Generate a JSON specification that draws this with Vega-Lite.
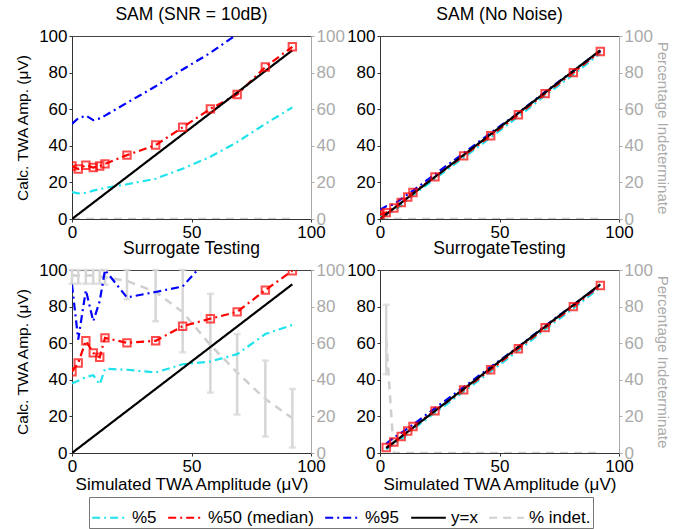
{
"$schema": "https://vega.github.io/schema/vega-lite/v6.json",
"padding": {"left": 15, "top": 5, "right": 4, "bottom": 2},
"datasets": {"d": [
{"p":"tl","s":"%5","x":0,"y":14.7},{"p":"tl","s":"%5","x":2.6,"y":14.0},{"p":"tl","s":"%5","x":5.8,"y":14.3},{"p":"tl","s":"%5","x":8.9,"y":15.5},{"p":"tl","s":"%5","x":11.6,"y":16.3},{"p":"tl","s":"%5","x":13.8,"y":17.0},{"p":"tl","s":"%5","x":23,"y":19.0},{"p":"tl","s":"%5","x":35,"y":22.0},{"p":"tl","s":"%5","x":46.3,"y":27.5},{"p":"tl","s":"%5","x":57.9,"y":34.0},{"p":"tl","s":"%5","x":69.1,"y":42.0},{"p":"tl","s":"%5","x":80.9,"y":52.0},{"p":"tl","s":"%5","x":92.2,"y":61.0},
{"p":"tl","s":"%50 (median)","x":0,"y":29.0},{"p":"tl","s":"%50 (median)","x":2.6,"y":27.3},{"p":"tl","s":"%50 (median)","x":5.8,"y":29.4},{"p":"tl","s":"%50 (median)","x":8.9,"y":28.1},{"p":"tl","s":"%50 (median)","x":11.6,"y":29.0},{"p":"tl","s":"%50 (median)","x":13.8,"y":30.1},{"p":"tl","s":"%50 (median)","x":23,"y":34.9},{"p":"tl","s":"%50 (median)","x":35,"y":40.4},{"p":"tl","s":"%50 (median)","x":46.3,"y":50.1},{"p":"tl","s":"%50 (median)","x":57.9,"y":60.2},{"p":"tl","s":"%50 (median)","x":69.1,"y":68.0},{"p":"tl","s":"%50 (median)","x":80.9,"y":83.1},{"p":"tl","s":"%50 (median)","x":92.2,"y":94.1},
{"p":"tl","s":"%95","x":0,"y":52},{"p":"tl","s":"%95","x":2.6,"y":55},{"p":"tl","s":"%95","x":5.8,"y":56.5},{"p":"tl","s":"%95","x":8.9,"y":54},{"p":"tl","s":"%95","x":11.6,"y":55},{"p":"tl","s":"%95","x":13.8,"y":56.5},{"p":"tl","s":"%95","x":23,"y":63.5},{"p":"tl","s":"%95","x":35,"y":72.5},{"p":"tl","s":"%95","x":46.3,"y":81.7},{"p":"tl","s":"%95","x":57.9,"y":90.8},{"p":"tl","s":"%95","x":69.1,"y":101},{"p":"tl","s":"%95","x":80.9,"y":111},{"p":"tl","s":"%95","x":92.2,"y":121},
{"p":"tl","s":"y=x","x":0,"y":0},{"p":"tl","s":"y=x","x":92.2,"y":92.2},
{"p":"tl","s":"% indet.","x":0,"y":0},{"p":"tl","s":"% indet.","x":92.2,"y":0},

{"p":"tr","s":"%5","x":0,"y":1},{"p":"tr","s":"%5","x":2.6,"y":2},{"p":"tr","s":"%5","x":5.8,"y":4.5},{"p":"tr","s":"%5","x":8.9,"y":7.5},{"p":"tr","s":"%5","x":11.6,"y":10.5},{"p":"tr","s":"%5","x":13.8,"y":13},{"p":"tr","s":"%5","x":23,"y":22},{"p":"tr","s":"%5","x":35,"y":33.5},{"p":"tr","s":"%5","x":46.3,"y":44.5},{"p":"tr","s":"%5","x":57.9,"y":56},{"p":"tr","s":"%5","x":69.1,"y":67.5},{"p":"tr","s":"%5","x":80.9,"y":79},{"p":"tr","s":"%5","x":92.2,"y":90.5},
{"p":"tr","s":"%50 (median)","x":0,"y":2.5},{"p":"tr","s":"%50 (median)","x":2.6,"y":3.5},{"p":"tr","s":"%50 (median)","x":5.8,"y":6},{"p":"tr","s":"%50 (median)","x":8.9,"y":9},{"p":"tr","s":"%50 (median)","x":11.6,"y":12},{"p":"tr","s":"%50 (median)","x":13.8,"y":14.5},{"p":"tr","s":"%50 (median)","x":23,"y":23},{"p":"tr","s":"%50 (median)","x":35,"y":34.5},{"p":"tr","s":"%50 (median)","x":46.3,"y":45.5},{"p":"tr","s":"%50 (median)","x":57.9,"y":57},{"p":"tr","s":"%50 (median)","x":69.1,"y":68.5},{"p":"tr","s":"%50 (median)","x":80.9,"y":80},{"p":"tr","s":"%50 (median)","x":92.2,"y":91.5},
{"p":"tr","s":"%95","x":0,"y":5},{"p":"tr","s":"%95","x":2.6,"y":7},{"p":"tr","s":"%95","x":5.8,"y":8},{"p":"tr","s":"%95","x":8.9,"y":11},{"p":"tr","s":"%95","x":11.6,"y":13.5},{"p":"tr","s":"%95","x":13.8,"y":15.5},{"p":"tr","s":"%95","x":23,"y":24.5},{"p":"tr","s":"%95","x":35,"y":36},{"p":"tr","s":"%95","x":46.3,"y":47},{"p":"tr","s":"%95","x":57.9,"y":58},{"p":"tr","s":"%95","x":69.1,"y":69.5},{"p":"tr","s":"%95","x":80.9,"y":81},{"p":"tr","s":"%95","x":92.2,"y":92},
{"p":"tr","s":"y=x","x":0,"y":0},{"p":"tr","s":"y=x","x":92.2,"y":92.2},
{"p":"tr","s":"% indet.","x":0,"y":0},{"p":"tr","s":"% indet.","x":92.2,"y":0},

{"p":"bl","s":"%5","x":0,"y":38},{"p":"bl","s":"%5","x":2.6,"y":39.5},{"p":"bl","s":"%5","x":5.8,"y":41.5},{"p":"bl","s":"%5","x":8.9,"y":42.5},{"p":"bl","s":"%5","x":11.6,"y":37.5},{"p":"bl","s":"%5","x":13.8,"y":46},{"p":"bl","s":"%5","x":23,"y":45.5},{"p":"bl","s":"%5","x":35,"y":44},{"p":"bl","s":"%5","x":46.3,"y":48.5},{"p":"bl","s":"%5","x":57.9,"y":50},{"p":"bl","s":"%5","x":69.1,"y":54},{"p":"bl","s":"%5","x":80.9,"y":65},{"p":"bl","s":"%5","x":92.2,"y":70},
{"p":"bl","s":"%50 (median)","x":0,"y":44.4},{"p":"bl","s":"%50 (median)","x":2.6,"y":49.2},{"p":"bl","s":"%50 (median)","x":5.8,"y":61.3},{"p":"bl","s":"%50 (median)","x":8.9,"y":54.7},{"p":"bl","s":"%50 (median)","x":11.6,"y":52.3},{"p":"bl","s":"%50 (median)","x":13.8,"y":62.9},{"p":"bl","s":"%50 (median)","x":23,"y":60.2},{"p":"bl","s":"%50 (median)","x":35,"y":61.3},{"p":"bl","s":"%50 (median)","x":46.3,"y":69.3},{"p":"bl","s":"%50 (median)","x":57.9,"y":73.4},{"p":"bl","s":"%50 (median)","x":69.1,"y":77.1},{"p":"bl","s":"%50 (median)","x":80.9,"y":89},{"p":"bl","s":"%50 (median)","x":92.2,"y":99.6},
{"p":"bl","s":"%95","x":0,"y":92},{"p":"bl","s":"%95","x":2.6,"y":62},{"p":"bl","s":"%95","x":5.8,"y":89},{"p":"bl","s":"%95","x":8.9,"y":72},{"p":"bl","s":"%95","x":11.6,"y":83},{"p":"bl","s":"%95","x":13.8,"y":100},{"p":"bl","s":"%95","x":23,"y":85},{"p":"bl","s":"%95","x":35,"y":88},{"p":"bl","s":"%95","x":46.3,"y":91},{"p":"bl","s":"%95","x":57.9,"y":108},{"p":"bl","s":"%95","x":69.1,"y":120},{"p":"bl","s":"%95","x":80.9,"y":130},{"p":"bl","s":"%95","x":92.2,"y":140},
{"p":"bl","s":"y=x","x":0,"y":0},{"p":"bl","s":"y=x","x":92.2,"y":92.2},
{"p":"bl","s":"% indet.","x":0,"y":97,"lo":92.5,"hi":100},{"p":"bl","s":"% indet.","x":2.6,"y":97,"lo":92.5,"hi":100},{"p":"bl","s":"% indet.","x":5.8,"y":97,"lo":92.5,"hi":100},{"p":"bl","s":"% indet.","x":8.9,"y":97,"lo":92.5,"hi":100},{"p":"bl","s":"% indet.","x":11.6,"y":96.5,"lo":92.5,"hi":100},{"p":"bl","s":"% indet.","x":13.8,"y":96,"lo":92,"hi":100},{"p":"bl","s":"% indet.","x":23,"y":94,"lo":84,"hi":100},{"p":"bl","s":"% indet.","x":35,"y":88,"lo":72,"hi":100},{"p":"bl","s":"% indet.","x":46.3,"y":77,"lo":55,"hi":100},{"p":"bl","s":"% indet.","x":57.9,"y":59,"lo":33,"hi":87},{"p":"bl","s":"% indet.","x":69.1,"y":44,"lo":21,"hi":65},{"p":"bl","s":"% indet.","x":80.9,"y":29.5,"lo":9,"hi":50.5},{"p":"bl","s":"% indet.","x":92.2,"y":19,"lo":3,"hi":35},

{"p":"br","s":"%5","x":2.6,"y":2},{"p":"br","s":"%5","x":5.8,"y":5},{"p":"br","s":"%5","x":8.9,"y":7.5},{"p":"br","s":"%5","x":11.6,"y":10.5},{"p":"br","s":"%5","x":13.8,"y":13},{"p":"br","s":"%5","x":23,"y":22},{"p":"br","s":"%5","x":35,"y":33.5},{"p":"br","s":"%5","x":46.3,"y":44.5},{"p":"br","s":"%5","x":57.9,"y":56},{"p":"br","s":"%5","x":69.1,"y":67.5},{"p":"br","s":"%5","x":80.9,"y":79},{"p":"br","s":"%5","x":92.2,"y":90.5},
{"p":"br","s":"%50 (median)","x":2.6,"y":3},{"p":"br","s":"%50 (median)","x":5.8,"y":6},{"p":"br","s":"%50 (median)","x":8.9,"y":9},{"p":"br","s":"%50 (median)","x":11.6,"y":12},{"p":"br","s":"%50 (median)","x":13.8,"y":14.5},{"p":"br","s":"%50 (median)","x":23,"y":23},{"p":"br","s":"%50 (median)","x":35,"y":34.5},{"p":"br","s":"%50 (median)","x":46.3,"y":45.5},{"p":"br","s":"%50 (median)","x":57.9,"y":57},{"p":"br","s":"%50 (median)","x":69.1,"y":68.5},{"p":"br","s":"%50 (median)","x":80.9,"y":80},{"p":"br","s":"%50 (median)","x":92.2,"y":91.5},
{"p":"br","s":"%95","x":2.6,"y":5},{"p":"br","s":"%95","x":5.8,"y":8.5},{"p":"br","s":"%95","x":8.9,"y":11},{"p":"br","s":"%95","x":11.6,"y":13.5},{"p":"br","s":"%95","x":13.8,"y":15.5},{"p":"br","s":"%95","x":23,"y":24.5},{"p":"br","s":"%95","x":35,"y":36},{"p":"br","s":"%95","x":46.3,"y":47},{"p":"br","s":"%95","x":57.9,"y":58},{"p":"br","s":"%95","x":69.1,"y":69.5},{"p":"br","s":"%95","x":80.9,"y":81},{"p":"br","s":"%95","x":92.2,"y":92},
{"p":"br","s":"y=x","x":2.6,"y":2.6},{"p":"br","s":"y=x","x":92.2,"y":92.2},
{"p":"br","s":"% indet.","x":2.6,"y":62,"lo":43,"hi":81},{"p":"br","s":"% indet.","x":5.8,"y":0},{"p":"br","s":"% indet.","x":92.2,"y":0}
]},
"data": {"name": "d"},
"columns": 2,
"spacing": {"row": 51, "column": 69},
"bounds": "flush",
"concat": [
{
 "width": 239, "height": 183,
 "title": "SAM (SNR = 10dB)",
 "transform": [{"filter": "datum.p == 'tl'"}],
 "layer": [
  {"layer": [
   {"transform": [{"filter": "datum.s == '% indet.'"}],
    "mark": {"type": "line", "strokeWidth": 2.5, "clip": true},
    "encoding": {
     "x": {"field": "x", "type": "quantitative", "scale": {"domain": [0, 100], "nice": false}, "axis": {"values": [0, 50, 100], "title": null, "labelOverlap": false}},
     "y": {"field": "y", "type": "quantitative", "scale": {"domain": [0, 100], "nice": false}, "axis": {"orient": "right", "values": [0, 20, 40, 60, 80, 100], "labelOverlap": false, "title": null, "labelColor": "#aaaaaa", "domainColor": "#aaaaaa", "tickColor": "#aaaaaa"}},
     "color": {"field": "s", "type": "nominal", "scale": {"domain": ["%5", "%50 (median)", "%95", "y=x", "% indet."], "range": ["#1ee3ec", "#ff0000", "#0000ff", "#000000", "#cfcfcf"]}, "legend": {"title": null}},
     "strokeDash": {"field": "s", "type": "nominal", "scale": {"domain": ["%5", "%50 (median)", "%95", "y=x", "% indet."], "range": [[8, 4, 2, 4], [8, 4, 2, 4], [8, 4, 2, 4], [1, 0], [8, 6]]}, "legend": {"title": null}}
    }}
  ]},
  {"layer": [
   {"transform": [{"filter": "datum.s != '% indet.'"}],
    "mark": {"type": "line", "strokeWidth": 2.2, "clip": true},
    "encoding": {
     "x": {"field": "x", "type": "quantitative", "scale": {"domain": [0, 100], "nice": false}, "axis": {"values": [0, 50, 100], "title": null, "labelOverlap": false}},
     "y": {"field": "y", "type": "quantitative", "scale": {"domain": [0, 100], "nice": false}, "axis": {"orient": "left", "values": [0, 20, 40, 60, 80, 100], "labelOverlap": false, "title": "Calc. TWA Amp. (μV)"}},
     "color": {"field": "s", "type": "nominal", "scale": {"domain": ["%5", "%50 (median)", "%95", "y=x", "% indet."], "range": ["#1ee3ec", "#ff0000", "#0000ff", "#000000", "#cfcfcf"]}, "legend": {"title": null}},
     "strokeDash": {"field": "s", "type": "nominal", "scale": {"domain": ["%5", "%50 (median)", "%95", "y=x", "% indet."], "range": [[8, 4, 2, 4], [8, 4, 2, 4], [8, 4, 2, 4], [1, 0], [8, 6]]}, "legend": {"title": null}}
    }},
   {"transform": [{"filter": "datum.s == '%50 (median)'"}],
    "mark": {"type": "point", "shape": "square", "filled": false, "color": "#ff0000", "size": 55, "strokeWidth": 2, "clip": true},
    "encoding": {
     "x": {"field": "x", "type": "quantitative", "axis": {"values": [0, 50, 100], "title": null, "labelOverlap": false}},
     "y": {"field": "y", "type": "quantitative", "axis": {"orient": "left", "values": [0, 20, 40, 60, 80, 100], "labelOverlap": false, "title": "Calc. TWA Amp. (μV)"}}
    }}
  ]}
 ],
 "resolve": {"scale": {"y": "independent"}}
},
{
 "width": 239, "height": 183,
 "title": "SAM (No Noise)",
 "transform": [{"filter": "datum.p == 'tr'"}],
 "layer": [
  {"layer": [
   {"transform": [{"filter": "datum.s == '% indet.'"}],
    "mark": {"type": "line", "strokeWidth": 2.5, "clip": true},
    "encoding": {
     "x": {"field": "x", "type": "quantitative", "scale": {"domain": [0, 100], "nice": false}, "axis": {"values": [0, 50, 100], "title": null, "labelOverlap": false}},
     "y": {"field": "y", "type": "quantitative", "scale": {"domain": [0, 100], "nice": false}, "axis": {"orient": "right", "values": [0, 20, 40, 60, 80, 100], "labelOverlap": false, "title": "Percentage Indeterminate", "titleFontSize": 15, "titlePadding": 2, "labelColor": "#aaaaaa", "domainColor": "#aaaaaa", "tickColor": "#aaaaaa", "titleColor": "#aaaaaa"}},
     "color": {"field": "s", "type": "nominal", "scale": {"domain": ["%5", "%50 (median)", "%95", "y=x", "% indet."], "range": ["#1ee3ec", "#ff0000", "#0000ff", "#000000", "#cfcfcf"]}, "legend": {"title": null}},
     "strokeDash": {"field": "s", "type": "nominal", "scale": {"domain": ["%5", "%50 (median)", "%95", "y=x", "% indet."], "range": [[8, 4, 2, 4], [8, 4, 2, 4], [8, 4, 2, 4], [1, 0], [8, 6]]}, "legend": {"title": null}}
    }}
  ]},
  {"layer": [
   {"transform": [{"filter": "datum.s != '% indet.'"}],
    "mark": {"type": "line", "strokeWidth": 2.2, "clip": true},
    "encoding": {
     "x": {"field": "x", "type": "quantitative", "scale": {"domain": [0, 100], "nice": false}, "axis": {"values": [0, 50, 100], "title": null, "labelOverlap": false}},
     "y": {"field": "y", "type": "quantitative", "scale": {"domain": [0, 100], "nice": false}, "axis": {"orient": "left", "values": [0, 20, 40, 60, 80, 100], "labelOverlap": false, "title": null}},
     "color": {"field": "s", "type": "nominal", "scale": {"domain": ["%5", "%50 (median)", "%95", "y=x", "% indet."], "range": ["#1ee3ec", "#ff0000", "#0000ff", "#000000", "#cfcfcf"]}, "legend": {"title": null}},
     "strokeDash": {"field": "s", "type": "nominal", "scale": {"domain": ["%5", "%50 (median)", "%95", "y=x", "% indet."], "range": [[8, 4, 2, 4], [8, 4, 2, 4], [8, 4, 2, 4], [1, 0], [8, 6]]}, "legend": {"title": null}}
    }},
   {"transform": [{"filter": "datum.s == '%50 (median)'"}],
    "mark": {"type": "point", "shape": "square", "filled": false, "color": "#ff0000", "size": 55, "strokeWidth": 2, "clip": true},
    "encoding": {
     "x": {"field": "x", "type": "quantitative", "axis": {"values": [0, 50, 100], "title": null, "labelOverlap": false}},
     "y": {"field": "y", "type": "quantitative", "axis": {"orient": "left", "values": [0, 20, 40, 60, 80, 100], "labelOverlap": false, "title": null}}
    }}
  ]}
 ],
 "resolve": {"scale": {"y": "independent"}}
},
{
 "width": 239, "height": 183,
 "title": "Surrogate Testing",
 "transform": [{"filter": "datum.p == 'bl'"}],
 "layer": [
  {"layer": [
   {"transform": [{"filter": "datum.s == '% indet.'"}],
    "mark": {"type": "line", "strokeWidth": 2.5, "clip": true},
    "encoding": {
     "x": {"field": "x", "type": "quantitative", "scale": {"domain": [0, 100], "nice": false}, "axis": {"values": [0, 50, 100], "title": "Simulated TWA Amplitude (μV)", "labelOverlap": false}},
     "y": {"field": "y", "type": "quantitative", "scale": {"domain": [0, 100], "nice": false}, "axis": {"orient": "right", "values": [0, 20, 40, 60, 80, 100], "labelOverlap": false, "title": null, "labelColor": "#aaaaaa", "domainColor": "#aaaaaa", "tickColor": "#aaaaaa"}},
     "color": {"field": "s", "type": "nominal", "scale": {"domain": ["%5", "%50 (median)", "%95", "y=x", "% indet."], "range": ["#1ee3ec", "#ff0000", "#0000ff", "#000000", "#cfcfcf"]}, "legend": {"title": null}},
     "strokeDash": {"field": "s", "type": "nominal", "scale": {"domain": ["%5", "%50 (median)", "%95", "y=x", "% indet."], "range": [[8, 4, 2, 4], [8, 4, 2, 4], [8, 4, 2, 4], [1, 0], [8, 6]]}, "legend": {"title": null}}
    }},
   {"transform": [{"filter": "datum.s == '% indet.' && isValid(datum.lo)"}],
    "mark": {"type": "errorbar", "ticks": {"size": 7, "color": "#d6d6d6", "strokeWidth": 2.5}, "color": "#d6d6d6", "thickness": 2.5},
    "encoding": {
     "x": {"field": "x", "type": "quantitative", "axis": {"values": [0, 50, 100], "title": "Simulated TWA Amplitude (μV)", "labelOverlap": false}},
     "y": {"field": "lo", "type": "quantitative", "axis": {"orient": "right", "values": [0, 20, 40, 60, 80, 100], "labelOverlap": false, "title": null, "labelColor": "#aaaaaa", "domainColor": "#aaaaaa", "tickColor": "#aaaaaa"}},
     "y2": {"field": "hi"}
    }}
  ]},
  {"layer": [
   {"transform": [{"filter": "datum.s != '% indet.'"}],
    "mark": {"type": "line", "strokeWidth": 2.2, "clip": true},
    "encoding": {
     "x": {"field": "x", "type": "quantitative", "scale": {"domain": [0, 100], "nice": false}, "axis": {"values": [0, 50, 100], "title": "Simulated TWA Amplitude (μV)", "labelOverlap": false}},
     "y": {"field": "y", "type": "quantitative", "scale": {"domain": [0, 100], "nice": false}, "axis": {"orient": "left", "values": [0, 20, 40, 60, 80, 100], "labelOverlap": false, "title": "Calc. TWA Amp. (μV)"}},
     "color": {"field": "s", "type": "nominal", "scale": {"domain": ["%5", "%50 (median)", "%95", "y=x", "% indet."], "range": ["#1ee3ec", "#ff0000", "#0000ff", "#000000", "#cfcfcf"]}, "legend": {"title": null}},
     "strokeDash": {"field": "s", "type": "nominal", "scale": {"domain": ["%5", "%50 (median)", "%95", "y=x", "% indet."], "range": [[8, 4, 2, 4], [8, 4, 2, 4], [8, 4, 2, 4], [1, 0], [8, 6]]}, "legend": {"title": null}}
    }},
   {"transform": [{"filter": "datum.s == '%50 (median)'"}],
    "mark": {"type": "point", "shape": "square", "filled": false, "color": "#ff0000", "size": 55, "strokeWidth": 2, "clip": true},
    "encoding": {
     "x": {"field": "x", "type": "quantitative", "axis": {"values": [0, 50, 100], "title": "Simulated TWA Amplitude (μV)", "labelOverlap": false}},
     "y": {"field": "y", "type": "quantitative", "axis": {"orient": "left", "values": [0, 20, 40, 60, 80, 100], "labelOverlap": false, "title": "Calc. TWA Amp. (μV)"}}
    }}
  ]}
 ],
 "resolve": {"scale": {"y": "independent"}}
},
{
 "width": 239, "height": 183,
 "title": "SurrogateTesting",
 "transform": [{"filter": "datum.p == 'br'"}],
 "layer": [
  {"layer": [
   {"transform": [{"filter": "datum.s == '% indet.'"}],
    "mark": {"type": "line", "strokeWidth": 2.5, "clip": true},
    "encoding": {
     "x": {"field": "x", "type": "quantitative", "scale": {"domain": [0, 100], "nice": false}, "axis": {"values": [0, 50, 100], "title": "Simulated TWA Amplitude (μV)", "labelOverlap": false}},
     "y": {"field": "y", "type": "quantitative", "scale": {"domain": [0, 100], "nice": false}, "axis": {"orient": "right", "values": [0, 20, 40, 60, 80, 100], "labelOverlap": false, "title": "Percentage Indeterminate", "titleFontSize": 15, "titlePadding": 2, "labelColor": "#aaaaaa", "domainColor": "#aaaaaa", "tickColor": "#aaaaaa", "titleColor": "#aaaaaa"}},
     "color": {"field": "s", "type": "nominal", "scale": {"domain": ["%5", "%50 (median)", "%95", "y=x", "% indet."], "range": ["#1ee3ec", "#ff0000", "#0000ff", "#000000", "#cfcfcf"]}, "legend": {"title": null}},
     "strokeDash": {"field": "s", "type": "nominal", "scale": {"domain": ["%5", "%50 (median)", "%95", "y=x", "% indet."], "range": [[8, 4, 2, 4], [8, 4, 2, 4], [8, 4, 2, 4], [1, 0], [8, 6]]}, "legend": {"title": null}}
    }},
   {"transform": [{"filter": "datum.s == '% indet.' && isValid(datum.lo)"}],
    "mark": {"type": "errorbar", "ticks": {"size": 7, "color": "#d6d6d6", "strokeWidth": 2.5}, "color": "#d6d6d6", "thickness": 2.5},
    "encoding": {
     "x": {"field": "x", "type": "quantitative", "axis": {"values": [0, 50, 100], "title": "Simulated TWA Amplitude (μV)", "labelOverlap": false}},
     "y": {"field": "lo", "type": "quantitative", "axis": {"orient": "right", "values": [0, 20, 40, 60, 80, 100], "labelOverlap": false, "title": "Percentage Indeterminate", "titleFontSize": 15, "titlePadding": 2, "labelColor": "#aaaaaa", "domainColor": "#aaaaaa", "tickColor": "#aaaaaa", "titleColor": "#aaaaaa"}},
     "y2": {"field": "hi"}
    }}
  ]},
  {"layer": [
   {"transform": [{"filter": "datum.s != '% indet.'"}],
    "mark": {"type": "line", "strokeWidth": 2.2, "clip": true},
    "encoding": {
     "x": {"field": "x", "type": "quantitative", "scale": {"domain": [0, 100], "nice": false}, "axis": {"values": [0, 50, 100], "title": "Simulated TWA Amplitude (μV)", "labelOverlap": false}},
     "y": {"field": "y", "type": "quantitative", "scale": {"domain": [0, 100], "nice": false}, "axis": {"orient": "left", "values": [0, 20, 40, 60, 80, 100], "labelOverlap": false, "title": null}},
     "color": {"field": "s", "type": "nominal", "scale": {"domain": ["%5", "%50 (median)", "%95", "y=x", "% indet."], "range": ["#1ee3ec", "#ff0000", "#0000ff", "#000000", "#cfcfcf"]}, "legend": {"title": null}},
     "strokeDash": {"field": "s", "type": "nominal", "scale": {"domain": ["%5", "%50 (median)", "%95", "y=x", "% indet."], "range": [[8, 4, 2, 4], [8, 4, 2, 4], [8, 4, 2, 4], [1, 0], [8, 6]]}, "legend": {"title": null}}
    }},
   {"transform": [{"filter": "datum.s == '%50 (median)'"}],
    "mark": {"type": "point", "shape": "square", "filled": false, "color": "#ff0000", "size": 55, "strokeWidth": 2, "clip": true},
    "encoding": {
     "x": {"field": "x", "type": "quantitative", "axis": {"values": [0, 50, 100], "title": "Simulated TWA Amplitude (μV)", "labelOverlap": false}},
     "y": {"field": "y", "type": "quantitative", "axis": {"orient": "left", "values": [0, 20, 40, 60, 80, 100], "labelOverlap": false, "title": null}}
    }}
  ]}
 ],
 "resolve": {"scale": {"y": "independent"}}
}
],
"config": {
 "font": "Liberation Sans",
 "view": {"stroke": "#444444", "strokeWidth": 1},
 "axis": {"grid": false, "labelFontSize": 17, "titleFontSize": 16, "titleFontWeight": "normal", "tickSize": 3, "labelPadding": 2, "domainColor": "#333333", "tickColor": "#333333", "labelColor": "#000000", "titleColor": "#000000", "labelFlush": false, "labelOverlap": false, "titlePadding": 6},
 "axisX": {"titleFontSize": 17, "titlePadding": 2},
 "axisY": {"titleFontSize": 15.5, "titlePadding": 8},
 "title": {"fontSize": 17.5, "fontWeight": "normal", "offset": 4},
 "legend": {"orient": "none", "legendX": 17, "legendY": 461, "direction": "horizontal", "symbolType": "stroke", "symbolSize": 1200, "symbolStrokeWidth": 2, "labelFontSize": 17, "labelColor": "#000000", "strokeColor": "#777777", "padding": 2, "columnPadding": 7, "labelOffset": 4}
}
}
